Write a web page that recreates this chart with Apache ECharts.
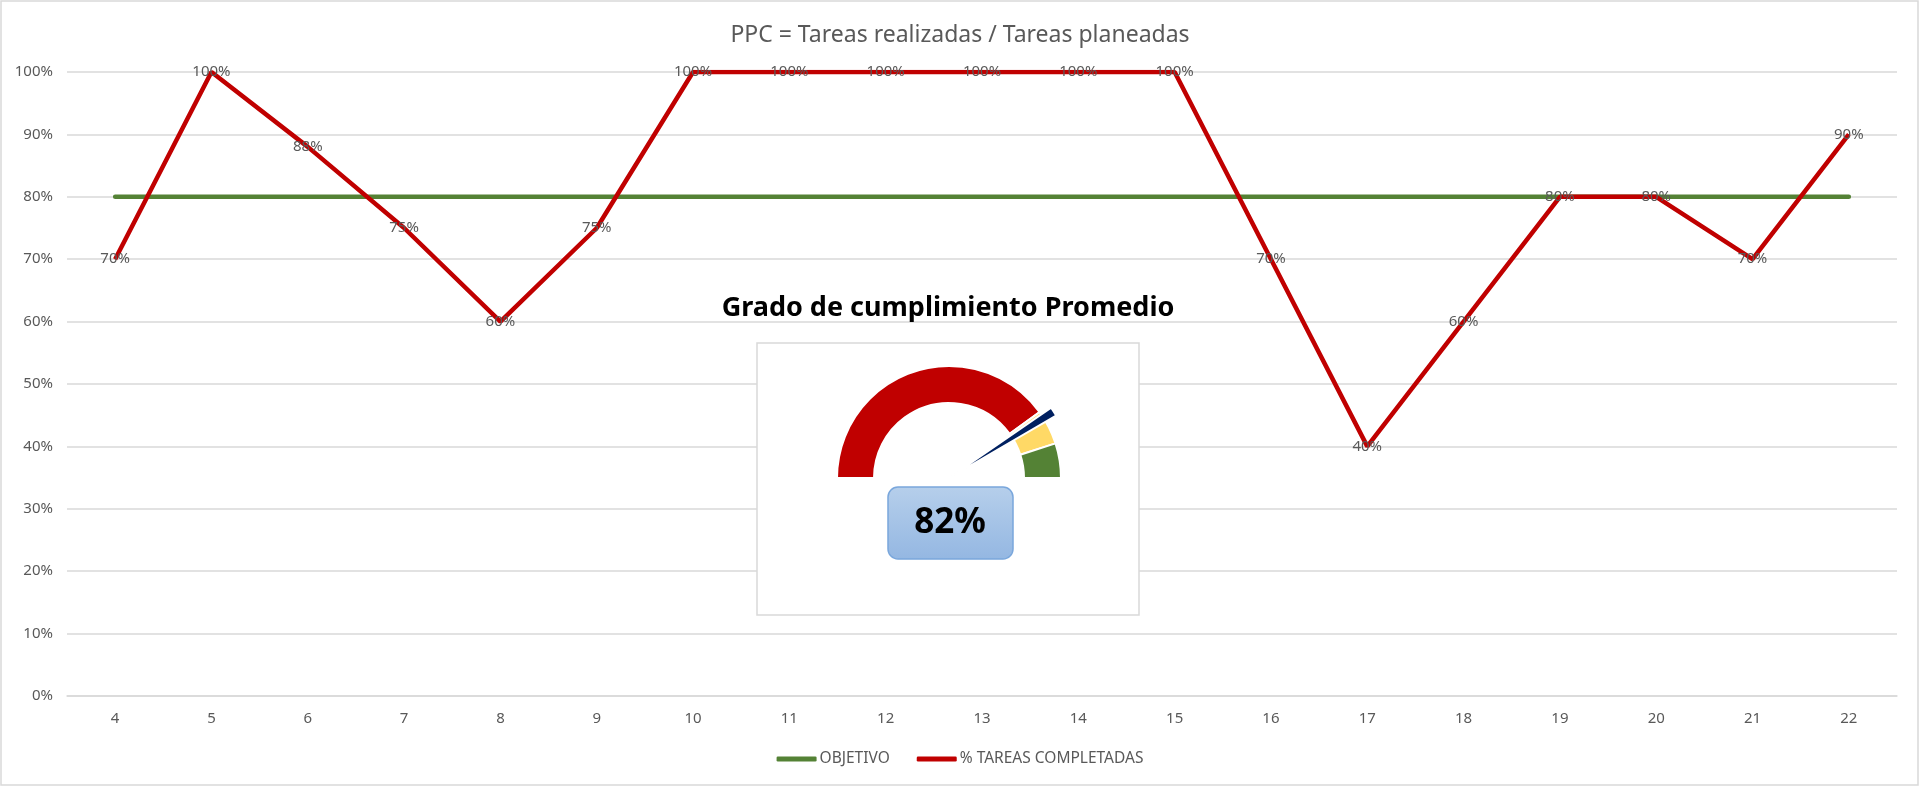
<!DOCTYPE html>
<html>
<head>
    <meta charset="utf-8" />
    <title>PPC</title>
    <style>
        html, body { margin: 0; padding: 0; background: #fff; }
        #container { width: 1920px; height: 787px; }
    </style>
</head>
<body>
    <div id="container"></div>

    <script src="https://cdn.jsdelivr.net/npm/echarts/dist/echarts.min.js"></script>
    <script>
        // semanas
        var semanas = ['4', '5', '6', '7', '8', '9', '10', '11', '12', '13', '14', '15', '16', '17', '18', '19', '20', '21', '22'];
        // % tareas completadas por semana
        var completadas = [70, 100, 88, 75, 60, 75, 100, 100, 100, 100, 100, 100, 70, 40, 60, 80, 80, 70, 90];
        // objetivo
        var objetivo = [80, 80, 80, 80, 80, 80, 80, 80, 80, 80, 80, 80, 80, 80, 80, 80, 80, 80, 80];
        // tramos del velocimetro: rojo, amarillo, verde
        var tramos = [80, 10, 10];
        var coloresTramos = ['#C00000', '#FFD966', '#548235'];

        var fuente = '"Noto Sans", "Open Sans", sans-serif';
        var gris = '#595959';

        var suma = 0;
        for (var i = 0; i < completadas.length; i++) suma += completadas[i];
        var promedio = Math.round(suma / completadas.length);

        var dom = document.getElementById("container");
        var myChart = echarts.init(dom);

        // centro del velocimetro
        var cx = 949, cy = 478;

        var datosTramos = tramos.map(function (v, i) {
            return { value: v, itemStyle: { color: coloresTramos[i], borderColor: '#fff', borderWidth: 2 } };
        });
        datosTramos.push({ value: 100, itemStyle: { color: 'transparent', borderWidth: 0 } });

        var anchoAguja = 2.4;
        var datosAguja = [
            { value: promedio - anchoAguja / 2, itemStyle: { color: 'transparent', borderWidth: 0 } },
            { value: anchoAguja, itemStyle: { color: '#002060', borderColor: '#fff', borderWidth: 2 } },
            { value: 100 - promedio - anchoAguja / 2, itemStyle: { color: 'transparent', borderWidth: 0 } },
            { value: 100, itemStyle: { color: 'transparent', borderWidth: 0 } }
        ];

        var option = {
            animation: false,
            textStyle: { fontFamily: fuente },
            title: {
                text: 'PPC = Tareas realizadas / Tareas planeadas',
                left: 'center',
                top: 19,
                textStyle: { color: gris, fontSize: 23, fontWeight: 'normal', fontFamily: fuente }
            },
            legend: {
                data: ['OBJETIVO', '% TAREAS COMPLETADAS'],
                left: 'center',
                top: 746,
                icon: 'roundRect',
                itemWidth: 40,
                itemHeight: 5,
                itemGap: 27,
                textStyle: { color: gris, fontSize: 15.5, fontFamily: fuente, padding: [0, 0, 0, -2] }
            },
            grid: { left: 67, right: 23, top: 72, bottom: 91 },
            xAxis: {
                type: 'category',
                data: semanas,
                boundaryGap: true,
                axisLine: { lineStyle: { color: '#d9d9d9', width: 1.5 } },
                axisTick: { show: false },
                axisLabel: { color: gris, fontSize: 15, margin: 15, fontFamily: fuente }
            },
            yAxis: {
                type: 'value',
                min: 0,
                max: 100,
                interval: 10,
                axisLine: { show: false },
                axisTick: { show: false },
                axisLabel: { color: gris, fontSize: 15, margin: 14, formatter: '{value}%', fontFamily: fuente },
                splitLine: { lineStyle: { color: '#d9d9d9', width: 1.5 } }
            },
            graphic: [
                {
                    type: 'rect', z: 1, silent: true,
                    shape: { x: 1, y: 1, width: 1917, height: 784 },
                    style: { fill: 'none', stroke: '#d9d9d9', lineWidth: 1.5 }
                },
                {
                    type: 'rect', z: 50, silent: true,
                    shape: { x: 757, y: 343, width: 382, height: 272 },
                    style: { fill: '#fff', stroke: '#d9d9d9', lineWidth: 1.5 }
                },
                {
                    type: 'text', z: 50, silent: true,
                    x: 948, y: 308,
                    style: {
                        text: 'Grado de cumplimiento Promedio',
                        fill: '#000', font: 'bold 27px ' + fuente,
                        align: 'center', verticalAlign: 'middle'
                    }
                },
                {
                    type: 'rect', z: 70, silent: true,
                    shape: { x: 888, y: 487, width: 125, height: 72, r: 10 },
                    style: {
                        fill: new echarts.graphic.LinearGradient(0, 0, 0, 1, [
                            { offset: 0, color: '#b6cfeb' },
                            { offset: 1, color: '#94b7e2' }
                        ]),
                        stroke: '#7aa7dc', lineWidth: 1.5
                    }
                },
                {
                    type: 'text', z: 71, silent: true,
                    x: 950, y: 523,
                    style: {
                        text: promedio + '%',
                        fill: '#000', font: 'bold 35px ' + fuente,
                        align: 'center', verticalAlign: 'middle'
                    }
                }
            ],
            series: [
                {
                    name: 'OBJETIVO',
                    type: 'line',
                    data: objetivo,
                    symbol: 'none',
                    color: '#548235',
                    lineStyle: { color: '#548235', width: 4.5, cap: 'round' },
                    z: 2
                },
                {
                    name: '% TAREAS COMPLETADAS',
                    type: 'line',
                    data: completadas,
                    symbol: 'circle',
                    symbolSize: 1,
                    showSymbol: true,
                    color: '#C00000',
                    itemStyle: { color: '#C00000' },
                    lineStyle: { color: '#C00000', width: 4.5 },
                    label: {
                        show: true,
                        position: 'inside',
                        formatter: '{c}%',
                        color: gris,
                        fontSize: 15,
                        fontFamily: fuente
                    },
                    z: 3
                },
                {
                    name: 'tramos',
                    type: 'pie',
                    center: [cx, cy],
                    radius: [75, 112],
                    startAngle: 180,
                    clockwise: true,
                    silent: true,
                    label: { show: false },
                    labelLine: { show: false },
                    emphasis: { disabled: true },
                    data: datosTramos,
                    z: 60
                },
                {
                    name: 'aguja',
                    type: 'pie',
                    center: [cx, cy],
                    radius: [0, 124],
                    startAngle: 180,
                    clockwise: true,
                    silent: true,
                    label: { show: false },
                    labelLine: { show: false },
                    emphasis: { disabled: true },
                    data: datosAguja,
                    z: 61
                }
            ]
        };

        myChart.setOption(option);
    </script>
</body>
</html>
